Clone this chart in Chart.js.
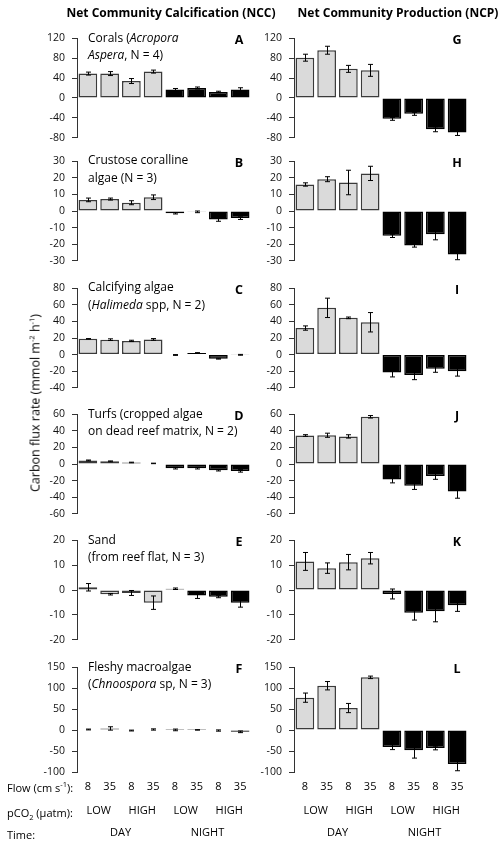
<!DOCTYPE html>
<html>
<head>
<meta charset="utf-8">
<script src="https://cdn.jsdelivr.net/npm/chart.js@4.4.0/dist/chart.umd.min.js"></script>
<style>
  body { margin: 0; background: #fff; overflow: hidden; }
  #wrap { position: relative; width: 500px; height: 841px; font-family: "Open Sans", sans-serif; color: #000; }
  canvas { position: absolute; }
  .t { position: absolute; white-space: nowrap; }
  .title { font-weight: bold; font-size: 12px; transform: translateX(-50%); }
  .note { font-size: 12px; line-height: 17.5px; }
  .letter { font-weight: bold; font-size: 12.5px; transform: translate(-50%, -50%); }
  .rowlab { font-size: 11px; transform: translateY(-50%); }
  sup, sub { font-size: 7.5px; line-height: 0; }
</style>
</head>
<body>
<div id="wrap"></div>
<script>
// x categories (flow, cm/s) and the grouping rows under the last panels
const flowLabels = ['8', '35', '8', '35', '8', '35', '8', '35'];
const co2Labels = ['LOW', 'HIGH', 'LOW', 'HIGH'];
const timeLabels = ['DAY', 'NIGHT'];

// y axis per row: min, max, step
const rowMin = [-80, -30, -40, -60, -20, -100];
const rowMax = [120, 30, 80, 60, 20, 150];
const rowStep = [40, 10, 20, 20, 10, 50];

// Net Community Calcification (left column)
const nccCorals = [49, 49, 34, 53, 17, 20, 12, 17];
const nccCoralsErr = [3, 4, 5, 3, 2, 2, 1.5, 3.5];
const nccCCA = [6.7, 7.2, 5, 8.3, -1.4, -0.5, -5.2, -4.3];
const nccCCAErr = [1.1, 0.6, 1.2, 1.4, 0.4, 0.5, 1, 0.8];
const nccHalimeda = [19, 18, 16.5, 18.3, -0.5, 2, -5, -0.3];
const nccHalimedaErr = [0.3, 1, 0.8, 1, 0.5, 0.3, 0.5, 0.5];
const nccTurfs = [4.3, 3.2, 1.8, 0.7, -5, -5, -7.6, -8.3];
const nccTurfsErr = [0.5, 0.5, 0.4, 0.3, 1, 1, 0.8, 1.5];
const nccSand = [1.1, -1.7, -1.2, -5.1, 0.5, -2.2, -2.7, -5.1];
const nccSandErr = [1.5, 0.3, 1, 2.7, 0.3, 1.2, 0.4, 1.8];
const nccFleshy = [1.5, 4, -1, 1.5, 0.5, 0.5, -1, -4];
const nccFleshyErr = [1, 4, 1, 1.5, 2, 0.5, 1.5, 2];

// Net Community Production (right column)
const ncpCorals = [81, 96, 58.5, 55.5, -42, -32, -63, -69.5];
const ncpCoralsErr = [7, 8, 7, 12, 3, 3, 5, 6];
const ncpCCA = [16, 19.2, 17.2, 22.7, -15, -20.8, -14, -26.2];
const ncpCCAErr = [1, 1.5, 7.4, 4.3, 1, 1, 3.4, 3.2];
const ncpHalimeda = [32, 56.4, 44.3, 39, -21.5, -24.8, -17, -20];
const ncpHalimedaErr = [2.6, 11.7, 1, 11.7, 5.5, 5.5, 4.4, 6];
const ncpTurfs = [34.4, 34.7, 33.3, 57, -18.8, -26.4, -14.5, -33.3];
const ncpTurfsErr = [1, 2.5, 2, 1.5, 4, 4.3, 4, 8];
const ncpSand = [11.5, 8.8, 11.2, 12.8, -1.6, -9.2, -8.6, -6.1];
const ncpSandErr = [3.6, 2.1, 3.1, 2.3, 2, 2.9, 4.2, 2.5];
const ncpFleshy = [77.5, 106, 52.7, 126, -40.5, -48, -42.6, -81];
const ncpFleshyErr = [11, 10, 11, 3, 6, 18.8, 4.5, 16];

const nccRows = [[nccCorals, nccCoralsErr], [nccCCA, nccCCAErr], [nccHalimeda, nccHalimedaErr],
                 [nccTurfs, nccTurfsErr], [nccSand, nccSandErr], [nccFleshy, nccFleshyErr]];
const ncpRows = [[ncpCorals, ncpCoralsErr], [ncpCCA, ncpCCAErr], [ncpHalimeda, ncpHalimedaErr],
                 [ncpTurfs, ncpTurfsErr], [ncpSand, ncpSandErr], [ncpFleshy, ncpFleshyErr]];

const notes = [
  'Corals (<i>Acropora</i><br><i>Aspera</i>, N = 4)',
  'Crustose coralline<br>algae (N = 3)',
  'Calcifying algae<br>(<i>Halimeda</i> spp, N = 2)',
  'Turfs (cropped algae<br>on dead reef matrix, N = 2)',
  'Sand<br>(from reef flat, N = 3)',
  'Fleshy macroalgae<br>(<i>Chnoospora</i> sp, N = 3)'
];
const leftLetters = ['A', 'B', 'C', 'D', 'E', 'F'];
const rightLetters = ['G', 'H', 'I', 'J', 'K', 'L'];

const rowTops = [33, 155.5, 282.5, 409, 535, 662];
const plotH = 110;
const axisW = 40;
const colAxisX = [77, 294];
const plotW = 174;

Chart.defaults.font.family = '"Open Sans", sans-serif';
const wrap = document.getElementById('wrap');

const errorBars = {
  id: 'errorBars',
  afterDatasetsDraw(chart) {
    const ctx = chart.ctx;
    const y = chart.scales.y;
    const ds = chart.data.datasets[0];
    ctx.save();
    ctx.strokeStyle = '#000';
    ctx.lineWidth = 1;
    chart.getDatasetMeta(0).data.forEach((bar, i) => {
      const x = Math.round(bar.x) + 0.5;
      const y1 = y.getPixelForValue(ds.data[i] + ds.errors[i]);
      const y2 = y.getPixelForValue(ds.data[i] - ds.errors[i]);
      ctx.beginPath();
      ctx.moveTo(x, y1); ctx.lineTo(x, y2);
      ctx.moveTo(x - 2.5, y1); ctx.lineTo(x + 2.5, y1);
      ctx.moveTo(x - 2.5, y2); ctx.lineTo(x + 2.5, y2);
      ctx.stroke();
    });
    ctx.restore();
  }
};

const bottomLabels = {
  id: 'bottomLabels',
  afterDraw(chart) {
    const ctx = chart.ctx;
    const x = chart.scales.x;
    const base = chart.chartArea.bottom;
    ctx.save();
    ctx.fillStyle = '#000';
    ctx.font = '11px "Open Sans"';
    ctx.textAlign = 'center';
    ctx.textBaseline = 'middle';
    flowLabels.forEach((t, i) => ctx.fillText(t, x.getPixelForValue(i), base + 15));
    co2Labels.forEach((t, i) => ctx.fillText(t, (x.getPixelForValue(2 * i) + x.getPixelForValue(2 * i + 1)) / 2, base + 39));
    timeLabels.forEach((t, i) => ctx.fillText(t, (x.getPixelForValue(4 * i) + x.getPixelForValue(4 * i + 3)) / 2, base + 61));
    ctx.restore();
  }
};

function addText(cls, html, left, top) {
  const d = document.createElement('div');
  d.className = 't ' + cls;
  d.innerHTML = html;
  d.style.left = left + 'px';
  d.style.top = top + 'px';
  wrap.appendChild(d);
  return d;
}

function makePanel(col, row, values, errs) {
  const last = row === 5;
  const c = document.createElement('canvas');
  const h = 8 + plotH + (last ? 72 : 8);
  c.width = axisW + plotW;
  c.height = h;
  c.style.left = (colAxisX[col] - axisW) + 'px';
  c.style.top = (rowTops[row] - 8) + 'px';
  wrap.appendChild(c);

  new Chart(c, {
    type: 'bar',
    data: {
      labels: flowLabels,
      datasets: [{
        data: values,
        errors: errs,
        backgroundColor: values.map((v, i) => i < 4 ? '#dadada' : '#000'),
        borderColor: values.map((v, i) => i < 4 ? '#3a3a3a' : '#000'),
        borderWidth: 1.5,
        borderSkipped: false,
        barPercentage: 1,
        categoryPercentage: 0.86
      }]
    },
    options: {
      responsive: false,
      animation: false,
      layout: { padding: { top: 8, bottom: last ? 72 : 8, left: 0, right: 0 } },
      plugins: { legend: { display: false }, tooltip: { enabled: false } },
      scales: {
        x: { display: false, offset: true },
        y: {
          min: rowMin[row],
          max: rowMax[row],
          afterFit: s => { s.width = axisW; },
          border: { display: true, color: '#333', width: 1 },
          grid: { drawOnChartArea: false, drawTicks: true, tickLength: 5, color: '#333' },
          ticks: { stepSize: rowStep[row], autoSkip: false, padding: 7, color: '#111', font: { size: 10.5 } }
        }
      }
    },
    plugins: last ? [errorBars, bottomLabels] : [errorBars]
  });
}

for (let r = 0; r < 6; r++) {
  makePanel(0, r, nccRows[r][0], nccRows[r][1]);
  makePanel(1, r, ncpRows[r][0], ncpRows[r][1]);
  addText('note', notes[r], 88, rowTops[r] - 4.5);
  addText('letter', leftLetters[r], 239, rowTops[r] + 6);
  addText('letter', rightLetters[r], 457, rowTops[r] + 6);
}

addText('title', 'Net Community Calcification (NCC)', 171, 4);
addText('title', 'Net Community Production (NCP)', 398, 4);

const yTitle = addText('', 'Carbon flux rate (mmol m<sup>-2</sup> h<sup>-1</sup>)', 35, 403);
yTitle.style.fontSize = '12.5px';
yTitle.style.transform = 'translate(-50%, -50%) rotate(-90deg)';

addText('rowlab', 'Flow (cm s<sup>-1</sup>):', 7, 787);
addText('rowlab', 'pCO<sub>2</sub> (µatm):', 7, 812);
addText('rowlab', 'Time:', 7, 834);
</script>
</body>
</html>
